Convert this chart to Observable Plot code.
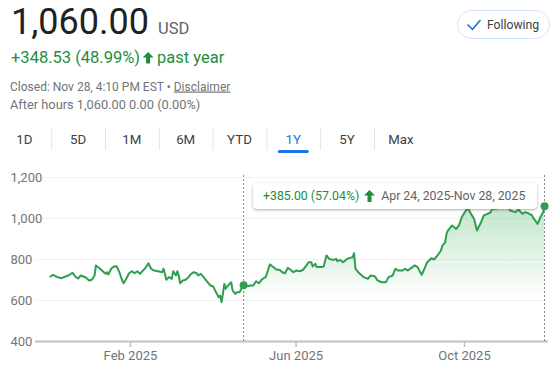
<!DOCTYPE html>
<html><head><meta charset="utf-8">
<script src="https://cdn.jsdelivr.net/npm/d3@7"></script>
<script src="https://cdn.jsdelivr.net/npm/@observablehq/plot@0.6"></script>
<style>
body{margin:0;background:#fff;font-family:Roboto,"Noto Sans",sans-serif;}
#wrap{position:relative;width:559px;height:371px;overflow:hidden;background:#fff;}
#head{position:absolute;left:0;top:0;}
#chart{position:absolute;left:0;top:160px;}
#tip{position:absolute;left:253px;top:183px;width:284px;height:26px;background:#fff;border-radius:4px;
 box-shadow:0 1px 3px rgba(60,64,67,.3),0 1px 2px rgba(60,64,67,.15);font-size:12.3px;line-height:26px;white-space:nowrap;color:#5f6368;}
#tip .chg{color:#1e8e3e;margin-left:10px;}
#tip svg{vertical-align:-2px;margin:0 6px 0 5px;}
</style></head>
<body><div id="wrap">
<svg id="head" width="559" height="160" font-family="Roboto, 'Noto Sans', sans-serif"></svg>
<div id="chart"></div>
<div id="tip"></div>
</div>
<script>
// ---- data ----
const priceLabel = "1,060.00";
const currency = "USD";
const yearChange = "+348.53 (48.99%)";
const closedLine = "Closed: Nov 28, 4:10 PM EST • ";
const afterHours = "After hours 1,060.00 0.00 (0.00%)";
const rangeChange = "+385.00 (57.04%)";
const rangeLabel = "Apr 24, 2025-Nov 28, 2025";
const tabs = ["1D","5D","1M","6M","YTD","1Y","5Y","Max"];
const activeTab = "1Y";
const yTicks = [400, 600, 800, 1000, 1200];
const xTicks = ["2025-02-01","2025-06-01","2025-10-01"];
const xDomain = ["2024-11-24T05:00:00Z","2025-11-30T21:00:00Z"];
const markerDates = ["2025-04-24","2025-11-28"];
const dates = [
"2024-12-05","2024-12-07","2024-12-10","2024-12-13","2024-12-16","2024-12-18","2024-12-21","2024-12-23","2024-12-25","2024-12-27",
"2024-12-29","2024-12-31","2025-01-02","2025-01-04","2025-01-06","2025-01-07","2025-01-10","2025-01-12","2025-01-14","2025-01-15",
"2025-01-16","2025-01-18","2025-01-20","2025-01-22","2025-01-24","2025-01-26","2025-01-27","2025-01-29","2025-01-31","2025-02-02",
"2025-02-04","2025-02-06","2025-02-08","2025-02-10","2025-02-12","2025-02-14","2025-02-16","2025-02-18","2025-02-21","2025-02-24",
"2025-02-25","2025-02-27","2025-03-01","2025-03-03","2025-03-04","2025-03-06","2025-03-07","2025-03-08","2025-03-09","2025-03-11",
"2025-03-13","2025-03-15","2025-03-17","2025-03-19","2025-03-21","2025-03-22","2025-03-24","2025-03-26","2025-03-29","2025-03-31",
"2025-04-02","2025-04-04","2025-04-06","2025-04-07","2025-04-08","2025-04-09","2025-04-10","2025-04-11","2025-04-12","2025-04-15",
"2025-04-16","2025-04-18","2025-04-19","2025-04-21","2025-04-23","2025-04-24","2025-04-27","2025-04-29","2025-05-01","2025-05-03",
"2025-05-05","2025-05-07","2025-05-09","2025-05-10","2025-05-12","2025-05-13","2025-05-15","2025-05-18","2025-05-20","2025-05-22",
"2025-05-24","2025-05-26","2025-05-28","2025-05-30","2025-06-01","2025-06-04","2025-06-06","2025-06-08","2025-06-10","2025-06-12",
"2025-06-13","2025-06-15","2025-06-16","2025-06-19","2025-06-21","2025-06-23","2025-06-25","2025-06-28","2025-06-30","2025-07-01",
"2025-07-03","2025-07-05","2025-07-08","2025-07-10","2025-07-12","2025-07-13","2025-07-14","2025-07-16","2025-07-20","2025-07-23",
"2025-07-25","2025-07-28","2025-07-30","2025-08-02","2025-08-05","2025-08-07","2025-08-10","2025-08-12","2025-08-14","2025-08-17",
"2025-08-19","2025-08-21","2025-08-23","2025-08-26","2025-08-28","2025-08-31","2025-09-02","2025-09-04","2025-09-07","2025-09-09",
"2025-09-11","2025-09-14","2025-09-15","2025-09-17","2025-09-18","2025-09-19","2025-09-20","2025-09-22","2025-09-23","2025-09-25",
"2025-09-27","2025-09-29","2025-10-02","2025-10-04","2025-10-05","2025-10-08","2025-10-10","2025-10-13","2025-10-15","2025-10-18",
"2025-10-20","2025-10-21","2025-10-24","2025-10-26","2025-10-28","2025-10-30","2025-11-01","2025-11-03","2025-11-07","2025-11-09",
"2025-11-12","2025-11-14","2025-11-17","2025-11-19","2025-11-20","2025-11-23","2025-11-25","2025-11-27","2025-11-28"];
const closes = [
717,725,714,709,717,722,735,717,707,722,
717,711,698,701,722,771,755,743,730,738,
727,755,766,767,738,698,684,706,733,743,
733,743,730,746,760,782,755,746,743,738,
755,701,714,706,743,722,743,722,684,698,
701,714,730,738,733,722,730,714,689,673,
668,640,616,624,592,632,681,657,668,689,
649,632,640,640,665,675,670,673,673,694,
684,701,711,714,755,776,766,750,750,738,
733,759,750,738,746,743,750,766,787,787,
766,779,763,763,766,820,803,798,803,792,
798,787,803,808,811,831,755,738,714,706,
722,718,698,689,689,714,722,755,746,746,
755,746,757,771,763,725,755,787,806,800,
816,844,868,884,925,941,949,966,961,949,
966,1006,1039,1047,1031,998,941,982,1015,1023,
1031,1047,1047,1065,1070,1085,1075,1039,1031,1044,
1023,1031,1023,1015,1002,974,1006,1031,1060];

// ---- header ----
const green = "#1e8e3e", lineGreen = "#2f9e50";
const head = d3.select("#head");
head.append("text").attr("x",11).attr("y",34).attr("font-size",36).attr("fill","#202124").text(priceLabel);
head.append("text").attr("x",158).attr("y",34).attr("font-size",16.5).attr("fill","#5f6368").text(currency);
const yc = head.append("text").attr("x",11).attr("y",63).attr("font-size",16.5).attr("fill",green).text(yearChange);
const ycEnd = 11 + yc.node().getComputedTextLength();
const ax = ycEnd + 8;
head.append("path").attr("d",`M${ax} 52 L${ax+5.5} 57.5 L${ax+2} 57.5 L${ax+2} 63.5 L${ax-2} 63.5 L${ax-2} 57.5 L${ax-5.5} 57.5 Z`).attr("fill",green);
head.append("text").attr("x",ax+9).attr("y",63).attr("font-size",16.5).attr("fill",green).text("past year");
const cl = head.append("text").attr("x",10).attr("y",90.5).attr("font-size",12).attr("fill","#70757a");
cl.append("tspan").text(closedLine);
cl.append("tspan").attr("text-decoration","underline").text("Disclaimer");
head.append("text").attr("x",10).attr("y",109).attr("font-size",12.8).attr("fill","#70757a").text(afterHours);
// following pill
head.append("rect").attr("x",457.5).attr("y",10.5).attr("width",92).attr("height",28).attr("rx",14)
  .attr("fill","#fff").attr("stroke","#d2e3fc");
head.append("path").attr("d","M467.5 24.5 L472.5 29.3 L480.5 20").attr("fill","none").attr("stroke","#1a73e8").attr("stroke-width",1.6);
head.append("text").attr("x",487).attr("y",29).attr("font-size",12.2).attr("fill","#3c4043").text("Following");
// tabs
const tabW = 53.8, tabX0 = -2.6;
tabs.forEach((t,i)=>{
  const cx = tabX0 + tabW*(i+0.5);
  head.append("text").attr("x",cx).attr("y",143.5).attr("text-anchor","middle").attr("font-size",13.3)
    .attr("fill", t===activeTab ? "#1a73e8" : "#3c4043").text(t);
  if(i>0) head.append("line").attr("x1",tabX0+tabW*i+0.5).attr("x2",tabX0+tabW*i+0.5).attr("y1",128).attr("y2",150).attr("stroke","#e3e3e3");
  if(t===activeTab) head.append("rect").attr("x",cx-15.5).attr("y",150).attr("width",31).attr("height",3).attr("rx",1.5).attr("fill","#1a73e8");
});

// ---- chart ----
const data = dates.map((d,i)=>({date:new Date(d), close:closes[i]}));
const start = new Date(markerDates[0]);
const sel = data.filter(d=>d.date>=start);
const markers = markerDates.map(m=>data.find(d=>+d.date===+new Date(m)));

const chart = Plot.plot({
  width:559, height:211,
  marginLeft:35, marginRight:11, marginTop:17, marginBottom:30,
  style:{fontFamily:"Roboto, 'Noto Sans', sans-serif", background:"transparent"},
  x:{type:"utc", domain:xDomain.map(d=>new Date(d))},
  y:{domain:[400,1200]},
  marks:[
    () => {
      const defs = d3.create("svg:defs");
      const g = defs.append("linearGradient").attr("id","fillGrad").attr("gradientUnits","userSpaceOnUse")
        .attr("x1",0).attr("x2",0).attr("y1",40).attr("y2",140);
      g.append("stop").attr("offset",0).attr("stop-color","#34a853").attr("stop-opacity",0.32);
      g.append("stop").attr("offset",1).attr("stop-color","#34a853").attr("stop-opacity",0);
      return defs.node();
    },
    Plot.ruleY(yTicks.filter(v=>v>400), {stroke:"#f1f3f4"}),
    Plot.areaY(sel, {x:"date", y1:400, y2:"close", fill:"url(#fillGrad)"}),
    Plot.ruleY([400], {stroke:"#bdc1c6", strokeWidth:2}),
    Plot.ruleX(markerDates.map(d=>new Date(d)), {y1:400, y2:1210, stroke:"#80868b", strokeDasharray:"2,2"}),
    Plot.line(data, {x:"date", y:"close", stroke:lineGreen, strokeWidth:2}),
    Plot.dot(markers, {x:"date", y:"close", r:4, fill:lineGreen}),
    Plot.axisX({ticks:xTicks.map(d=>new Date(d)), tickFormat:d3.utcFormat("%b %Y"), tickSize:6, tickPadding:3,
      stroke:"#bdc1c6", strokeWidth:1.5, fill:"#70757a", fontSize:13, label:null}),
    Plot.axisY({ticks:yTicks, tickFormat:d3.format(","), tickSize:0, tickPadding:3, textAnchor:"start", dx:-22,
      fill:"#70757a", fontSize:13, label:null})
  ]
});
document.getElementById("chart").appendChild(chart);

// ---- tooltip ----
const tip = document.getElementById("tip");
tip.innerHTML = `<span class="chg">${rangeChange}</span><svg width="11" height="12" viewBox="0 0 11 12"><path d="M5.5 0 L11 5.5 L7.5 5.5 L7.5 12 L3.5 12 L3.5 5.5 L0 5.5 Z" fill="${green}"/></svg><span>${rangeLabel}</span>`;
</script>
</body></html>
